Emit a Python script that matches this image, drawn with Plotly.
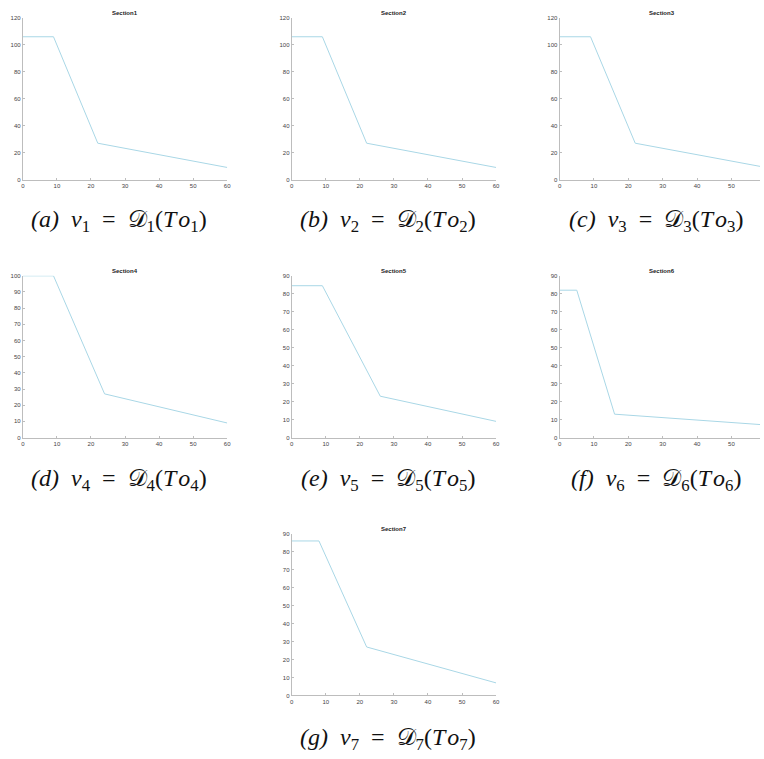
import plotly.graph_objects as go

W, H = 764, 759

# section curves: speed vs time-occupancy
x1 = [0, 9, 22, 60]
y1 = [106, 106, 27, 9]
x2 = [0, 9, 22, 60]
y2 = [106, 106, 27, 9]
x3 = [0, 9, 22, 60]
y3 = [106, 106, 27, 9]
x4 = [0, 9, 24, 60]
y4 = [100, 100, 27, 9]
x5 = [0, 9, 26, 60]
y5 = [84.5, 84.5, 23, 9]
x6 = [0, 5, 16, 60]
y6 = [82, 82, 13, 7]
x7 = [0, 8, 22, 60]
y7 = [86, 86, 27, 7]

titles = ["Section1", "Section2", "Section3", "Section4", "Section5", "Section6", "Section7"]
ymax = [120, 120, 120, 100, 90, 90, 90]
ystep = [20, 20, 20, 10, 10, 10, 10]
xmax = [60, 60, 58.3, 60, 60, 58.3, 60]
letters = ["a", "b", "c", "d", "e", "f", "g"]

# pixel boxes of each panel (left, right, top, bottom)
boxes = [
    (21, 227, 15, 178), (292, 498, 15, 178), (562, 764, 15, 178),
    (21, 227, 275, 438), (292, 498, 275, 438), (562, 764, 275, 438),
    (292, 498, 535, 698),
]
caption_y = [220, 220, 220, 481, 481, 481, 742]

series = [(x1, y1), (x2, y2), (x3, y3), (x4, y4), (x5, y5), (x6, y6), (x7, y7)]

fig = go.Figure()
annotations = []
sp = "&#8202;"
for i, ((xs, ys), (l, r, t, b)) in enumerate(zip(series, boxes)):
    n = "" if i == 0 else str(i + 1)
    fig.add_trace(go.Scatter(x=xs, y=ys, mode="lines", xaxis="x" + n, yaxis="y" + n,
                             line=dict(color="#a9d7e6", width=1), showlegend=False,
                             hoverinfo="skip"))
    axis_style = dict(showline=True, linecolor="#bdbdbd", linewidth=1, showgrid=False,
                      zeroline=False, ticks="inside", ticklen=2, tickcolor="#bdbdbd",
                      tickfont=dict(family="Arial", size=6, color="#444444"))
    fig.update_layout(**{
        "xaxis" + n: dict(domain=[l / W, r / W], anchor="y" + n, range=[0, xmax[i]],
                          dtick=10, tick0=0, **axis_style),
        "yaxis" + n: dict(domain=[1 - b / H, 1 - t / H], anchor="x" + n, range=[0, ymax[i]],
                          dtick=ystep[i], tick0=0, **axis_style),
    })
    annotations.append(dict(text="<b>" + titles[i] + "</b>", x=(l + 103) / W, y=1 - t / H,
                            xref="paper", yref="paper", xanchor="center", yanchor="bottom",
                            showarrow=False, font=dict(family="Arial", size=6, color="#222222")))
    k = str(i + 1)
    cap = (f"<i>({letters[i]})</i>  <i>v</i><sub>{k}</sub>  =  𝒟<sub>{k}</sub>"
           f"(<i>T</i>{sp}<i>o</i><sub>{k}</sub>)")
    annotations.append(dict(text=cap, x=(l + 97) / W, y=1 - caption_y[i] / H, xref="paper",
                            yref="paper", xanchor="center", yanchor="middle", showarrow=False,
                            font=dict(family="Liberation Serif", size=24, color="#111111")))

fig.update_layout(width=W, height=H, margin=dict(l=0, r=0, t=0, b=0),
                  paper_bgcolor="white", plot_bgcolor="white", annotations=annotations,
                  hovermode=False)

fig.write_html("out.html", config={"displayModeBar": False},
               post_script="document.body.style.margin='0';")
